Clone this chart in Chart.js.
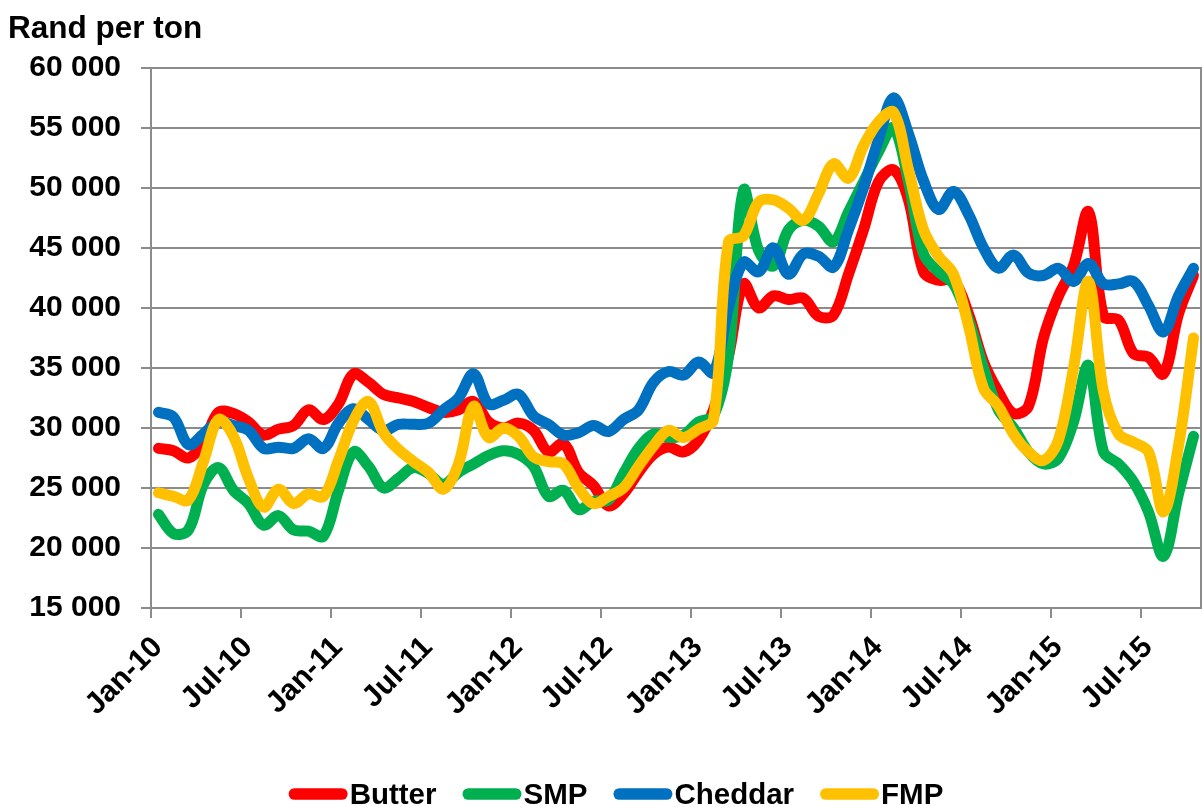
<!DOCTYPE html>
<html><head><meta charset="utf-8">
<script src="https://cdn.jsdelivr.net/npm/chart.js@4.4.0/dist/chart.umd.min.js"></script>
<style>html,body{margin:0;padding:0;background:#fff;} canvas{display:block;}</style>
</head><body>
<canvas id="c" width="1202" height="807"></canvas>
<script>
// Monthly prices, Jan-10 .. Oct-15 (Rand per ton)
const tickLabels = ['Jan-10','Jul-10','Jan-11','Jul-11','Jan-12','Jul-12','Jan-13','Jul-13','Jan-14','Jul-14','Jan-15','Jul-15'];
const seriesNames = ['Butter','SMP','Cheddar','FMP'];
const seriesColors = ['#FF0000','#00B050','#0070C0','#FFC000'];

const butter = [28300,28100,27500,28800,31300,31200,30500,29400,29900,30200,31500,30700,
  32000,34500,33800,32800,32500,32200,31700,31300,31500,32200,30500,30000,
  30400,29800,28000,28700,26300,25200,23500,24500,26300,27800,28400,28000,
  29000,31500,36000,42000,40000,41000,40700,40800,39300,39400,42800,46500,
  50500,51500,49000,43000,42300,42300,39500,35500,33000,31200,31800,37500,
  41000,43500,48000,39300,39000,36200,35900,34500,39500,42700];
const smp = [22800,21200,21500,25300,26700,24800,23700,21900,22700,21500,21400,21000,
  24800,28000,26800,25000,25800,26700,26200,25300,26300,27000,27700,28100,
  27800,26800,24300,24800,23200,23900,24000,26200,28300,29500,29200,29400,
  30500,31000,36000,49800,44800,43500,46500,47300,46800,45500,48000,50500,
  53000,55000,50500,44500,43000,42000,39000,35000,31500,30000,28000,27000,
  27500,30500,35200,28000,27000,25500,23000,19300,24500,29300];
const cheddar = [31300,30900,28600,29500,30500,30200,29800,28300,28400,28300,29100,28300,
  30400,31600,30700,29800,30300,30300,30400,31500,32500,34500,32000,32300,
  32800,31000,30300,29400,29600,30200,29700,30700,31500,33800,34700,34400,
  35500,34600,40000,43800,43000,45000,42800,44500,44300,43400,46500,50000,
  54000,57500,54500,50600,48200,49700,47800,45000,43300,44400,42900,42700,
  43300,42200,43700,42000,42000,42200,40200,38000,41000,43300];
const fmp = [24600,24300,24000,27200,30700,29300,25800,23400,24900,23700,24500,24300,
  27300,30600,32200,29600,28200,27200,26300,24900,27000,31800,29200,30000,
  29300,27600,27200,27000,25000,23700,24300,25000,26800,28500,29800,29200,
  29900,30700,45500,46000,48800,49000,48300,47300,49500,52000,50800,53500,
  55500,56300,51500,46500,44300,42800,38500,33300,31800,29500,28000,27300,
  29000,35000,42200,33000,29500,28800,28000,23000,28500,37500];

const allValues = [butter, smp, cheddar, fmp];
const drawOrder = [4, 3, 2, 1]; // FMP drawn on top

const FONT = "'Liberation Sans', Arial, Helvetica, sans-serif";
const GRID = '#8c8c8c';

const datasets = seriesNames.map((name, k) => ({
  label: name,
  data: allValues[k].map((v, i) => ({ x: i + 0.5, y: v })),
  borderColor: seriesColors[k],
  backgroundColor: seriesColors[k],
  borderWidth: 11,
  borderCapStyle: 'round',
  borderJoinStyle: 'round',
  pointRadius: 0,
  pointHoverRadius: 0,
  tension: 0.35,
  fill: false,
  order: drawOrder[k],
  yAxisID: 'y'
}));

const fmtThousands = v => String(Math.round(v)).replace(/\B(?=(\d{3})+(?!\d))/g, ' ');

// Bottom legend: rounded line sample immediately followed by the label
const legendStyle = { center: 616, y: 794, box: 59, thick: 11.7, gap: 2, spacing: 26, size: 29.5 };
const bottomLegend = {
  id: 'bottomLegend',
  afterDraw(chart) {
    const ctx = chart.ctx;
    const s = legendStyle;
    ctx.save();
    ctx.font = `bold ${s.size}px ${FONT}`;
    const widths = seriesNames.map(n => ctx.measureText(n).width);
    const total = widths.reduce((a, b) => a + b, 0) + seriesNames.length * (s.box + s.gap) + (seriesNames.length - 1) * s.spacing;
    let x = s.center - total / 2;
    seriesNames.forEach((n, k) => {
      ctx.strokeStyle = seriesColors[k];
      ctx.lineWidth = s.thick;
      ctx.lineCap = 'round';
      ctx.beginPath();
      ctx.moveTo(x + s.thick / 2, s.y);
      ctx.lineTo(x + s.box - s.thick / 2, s.y);
      ctx.stroke();
      ctx.fillStyle = '#000';
      ctx.textAlign = 'left';
      ctx.textBaseline = 'middle';
      ctx.fillText(n, x + s.box + s.gap, s.y + 1.5);
      x += s.box + s.gap + widths[k] + s.spacing;
    });
    ctx.restore();
  }
};

new Chart(document.getElementById('c'), {
  type: 'line',
  data: { datasets },
  plugins: [bottomLegend],
  options: {
    responsive: false,
    animation: false,
    devicePixelRatio: 1,
    layout: { padding: { left: 8, right: 0, top: 0, bottom: 0 } },
    plugins: {
      tooltip: { enabled: false },
      legend: { display: false },
      title: {
        display: true,
        text: 'Rand per ton',
        align: 'start',
        color: '#000',
        font: { family: FONT, size: 31.5, weight: 'bold' },
        padding: { top: 10, bottom: 20 }
      }
    },
    scales: {
      x: {
        type: 'linear',
        min: 0,
        max: 70,
        afterFit(scale) { scale.height = 199; },
        ticks: {
          stepSize: 6,
          includeBounds: false,
          autoSkip: false,
          maxRotation: 45,
          minRotation: 45,
          padding: 12,
          labelOffset: 7,
          color: '#000',
          font: { family: FONT, size: 30, weight: 'bold' },
          callback: v => tickLabels[Math.round(v / 6)]
        },
        grid: { drawOnChartArea: false, drawTicks: true, tickLength: 10, color: GRID, lineWidth: 2 },
        border: { display: true, color: GRID, width: 2 }
      },
      y: {
        min: 15000,
        max: 60000,
        afterFit(scale) { scale.width = 143; },
        ticks: {
          stepSize: 5000,
          padding: 20,
          color: '#000',
          font: { family: FONT, size: 30, weight: 'bold' },
          callback: v => fmtThousands(v)
        },
        grid: { color: GRID, lineWidth: 2, tickLength: 10, drawTicks: true },
        border: { display: true, color: GRID, width: 2 }
      },
      yRight: {
        position: 'right',
        min: 15000,
        max: 60000,
        afterFit(scale) { scale.width = 1; },
        ticks: { display: false },
        grid: { drawOnChartArea: false, drawTicks: false },
        border: { display: true, color: GRID, width: 2 }
      }
    }
  }
});
</script>
</body></html>
